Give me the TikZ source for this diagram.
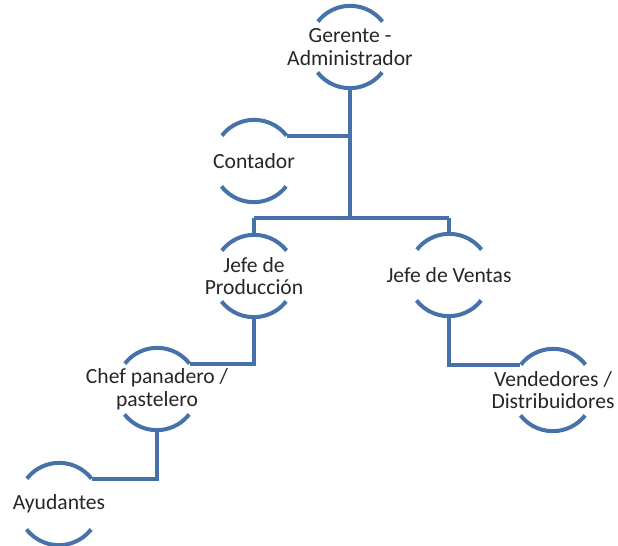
\documentclass[tikz,border=0pt]{standalone}
\usepackage{fontspec}
\setmainfont{Carlito}
\definecolor{lineblue}{HTML}{4672A9}
\definecolor{txt}{HTML}{262626}
\begin{document}
\begin{tikzpicture}[x=0.75pt,y=-0.75pt,
  ring/.style={circle,draw=none,minimum size=61.5pt,inner sep=0pt},
  lbl/.style={align=center,text=txt,font=\fontsize{16.2}{17}\selectfont,inner sep=0pt},
  link/.style={draw=lineblue,line width=3pt}]
\useasboundingbox (0,0) rectangle (618,546);
\node[ring] (G) at (350,47) {};
\node[ring] (C) at (254,161) {};
\node[ring] (P) at (254,276) {};
\node[ring] (V) at (449,275) {};
\node[ring] (Ch) at (157,389) {};
\node[ring] (A) at (59,504) {};
\node[ring] (D) at (553,390) {};
\foreach \n in {G,C,P,V,Ch,A,D}{
  \draw[link] (\n.38) arc[start angle=38,end angle=142,radius=30.75pt];
  \draw[link] (\n.218) arc[start angle=218,end angle=322,radius=30.75pt];
}
\node[lbl] (tG) at (G.center) {Gerente -\\Administrador};
\node[lbl] (tC) at (C.center) {Contador};
\node[lbl] (tP) at (P.center) {Jefe de\\Producción};
\node[lbl] (tV) at (V.center) {Jefe de Ventas};
\node[lbl] (tCh) at (Ch.center) {Chef panadero /\\pastelero};
\node[lbl] (tA) at (A.center) {Ayudantes};
\node[lbl] (tD) at (D.center) {Vendedores /\\Distribuidores};
\coordinate (busL) at (254,218);
\coordinate (busR) at (449,218);
\coordinate (busM) at (350,218);
\draw[link] (G.south) -- (busM);
\draw[link] (C.38) -- (C.38 -| G.south);
\draw[link] (busL) -- (busR);
\draw[link] (P.north) -- (busL);
\draw[link] (V.north) -- (busR);
\draw[link] (P.south) -- (P.south |- Ch.38) -- (Ch.38);
\draw[link] (V.south) -- (V.south |- D.142) -- (D.142);
\draw[link] (Ch.south) -- (Ch.south |- A.38) -- (A.38);
\end{tikzpicture}
\end{document}
